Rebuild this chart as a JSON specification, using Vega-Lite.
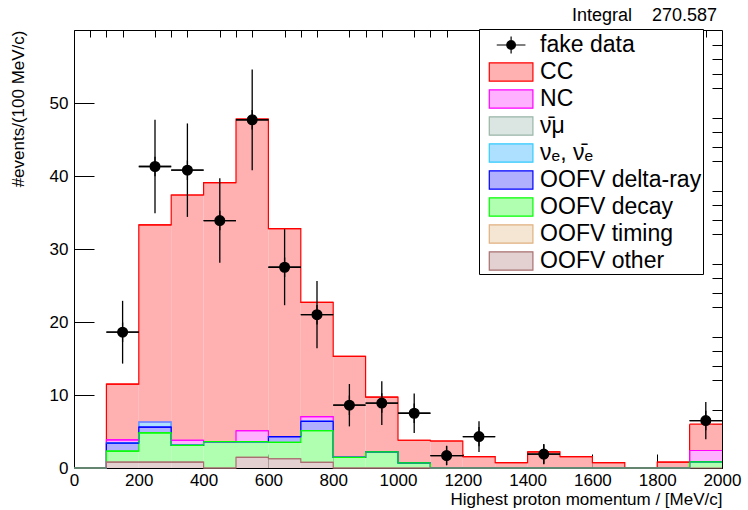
{
  "$schema": "https://vega.github.io/schema/vega-lite/v6.json",
  "width": 648,
  "height": 438,
  "autosize": "none",
  "padding": {"left": 74, "top": 30, "right": 26, "bottom": 42},
  "background": "white",
  "title": {"text": "Integral\u00a0\u00a0\u00a0\u00a0270.587", "anchor": "end", "frame": "group", "fontSize": 18, "font": "Liberation Sans", "fontWeight": "normal", "color": "black", "offset": 4, "dx": -5},
  "datasets": {
    "hist": [
      {"cat":"CC","lo":0,"hi":100,"bottom":0,"top":0},
      {"cat":"CC","lo":100,"hi":200,"bottom":3.85,"top":11.5},
      {"cat":"CC","lo":200,"hi":300,"bottom":6.3,"top":33.3},
      {"cat":"CC","lo":300,"hi":400,"bottom":3.8,"top":37.4},
      {"cat":"CC","lo":400,"hi":500,"bottom":3.6,"top":39.1},
      {"cat":"CC","lo":500,"hi":600,"bottom":5.1,"top":47.8},
      {"cat":"CC","lo":600,"hi":700,"bottom":4.3,"top":32.8},
      {"cat":"CC","lo":700,"hi":800,"bottom":7.05,"top":22.7},
      {"cat":"CC","lo":800,"hi":900,"bottom":1.46,"top":15.3},
      {"cat":"CC","lo":900,"hi":1000,"bottom":2.2,"top":9.7},
      {"cat":"CC","lo":1000,"hi":1100,"bottom":0.7,"top":3.8},
      {"cat":"CC","lo":1100,"hi":1200,"bottom":0,"top":3.7},
      {"cat":"CC","lo":1200,"hi":1300,"bottom":0,"top":1.55},
      {"cat":"CC","lo":1300,"hi":1400,"bottom":0,"top":0.73},
      {"cat":"CC","lo":1400,"hi":1500,"bottom":0,"top":2.2},
      {"cat":"CC","lo":1500,"hi":1600,"bottom":0,"top":1.55},
      {"cat":"CC","lo":1600,"hi":1700,"bottom":0,"top":0.73},
      {"cat":"CC","lo":1700,"hi":1800,"bottom":0,"top":0},
      {"cat":"CC","lo":1800,"hi":1900,"bottom":0,"top":0.8},
      {"cat":"CC","lo":1900,"hi":2000,"bottom":2.4,"top":6.0},

      {"cat":"NC","lo":0,"hi":100,"bottom":0,"top":0},
      {"cat":"NC","lo":100,"hi":200,"bottom":3.4,"top":3.85},
      {"cat":"NC","lo":200,"hi":300,"bottom":6.3,"top":6.3},
      {"cat":"NC","lo":300,"hi":400,"bottom":3.1,"top":3.8},
      {"cat":"NC","lo":400,"hi":500,"bottom":3.6,"top":3.6},
      {"cat":"NC","lo":500,"hi":600,"bottom":3.6,"top":5.1},
      {"cat":"NC","lo":600,"hi":700,"bottom":4.3,"top":4.3},
      {"cat":"NC","lo":700,"hi":800,"bottom":6.4,"top":7.05},
      {"cat":"NC","lo":800,"hi":900,"bottom":1.46,"top":1.46},
      {"cat":"NC","lo":900,"hi":1000,"bottom":2.2,"top":2.2},
      {"cat":"NC","lo":1000,"hi":1100,"bottom":0.7,"top":0.7},
      {"cat":"NC","lo":1100,"hi":1200,"bottom":0,"top":0},
      {"cat":"NC","lo":1200,"hi":1300,"bottom":0,"top":0},
      {"cat":"NC","lo":1300,"hi":1400,"bottom":0,"top":0},
      {"cat":"NC","lo":1400,"hi":1500,"bottom":0,"top":0},
      {"cat":"NC","lo":1500,"hi":1600,"bottom":0,"top":0},
      {"cat":"NC","lo":1600,"hi":1700,"bottom":0,"top":0},
      {"cat":"NC","lo":1700,"hi":1800,"bottom":0,"top":0},
      {"cat":"NC","lo":1800,"hi":1900,"bottom":0,"top":0},
      {"cat":"NC","lo":1900,"hi":2000,"bottom":0.85,"top":2.4},

      {"cat":"\u03bd\u2091, \u03bd\u0304\u2091","lo":0,"hi":100,"bottom":0,"top":0},
      {"cat":"\u03bd\u2091, \u03bd\u0304\u2091","lo":100,"hi":200,"bottom":3.4,"top":3.4},
      {"cat":"\u03bd\u2091, \u03bd\u0304\u2091","lo":200,"hi":300,"bottom":5.6,"top":6.3},
      {"cat":"\u03bd\u2091, \u03bd\u0304\u2091","lo":300,"hi":400,"bottom":3.1,"top":3.1},
      {"cat":"\u03bd\u2091, \u03bd\u0304\u2091","lo":400,"hi":500,"bottom":3.6,"top":3.6},
      {"cat":"\u03bd\u2091, \u03bd\u0304\u2091","lo":500,"hi":600,"bottom":3.6,"top":3.6},
      {"cat":"\u03bd\u2091, \u03bd\u0304\u2091","lo":600,"hi":700,"bottom":4.3,"top":4.3},
      {"cat":"\u03bd\u2091, \u03bd\u0304\u2091","lo":700,"hi":800,"bottom":6.4,"top":6.4},
      {"cat":"\u03bd\u2091, \u03bd\u0304\u2091","lo":800,"hi":900,"bottom":1.46,"top":1.46},
      {"cat":"\u03bd\u2091, \u03bd\u0304\u2091","lo":900,"hi":1000,"bottom":2.2,"top":2.2},
      {"cat":"\u03bd\u2091, \u03bd\u0304\u2091","lo":1000,"hi":1100,"bottom":0.7,"top":0.7},
      {"cat":"\u03bd\u2091, \u03bd\u0304\u2091","lo":1100,"hi":1200,"bottom":0,"top":0},
      {"cat":"\u03bd\u2091, \u03bd\u0304\u2091","lo":1200,"hi":1300,"bottom":0,"top":0},
      {"cat":"\u03bd\u2091, \u03bd\u0304\u2091","lo":1300,"hi":1400,"bottom":0,"top":0},
      {"cat":"\u03bd\u2091, \u03bd\u0304\u2091","lo":1400,"hi":1500,"bottom":0,"top":0},
      {"cat":"\u03bd\u2091, \u03bd\u0304\u2091","lo":1500,"hi":1600,"bottom":0,"top":0},
      {"cat":"\u03bd\u2091, \u03bd\u0304\u2091","lo":1600,"hi":1700,"bottom":0,"top":0},
      {"cat":"\u03bd\u2091, \u03bd\u0304\u2091","lo":1700,"hi":1800,"bottom":0,"top":0},
      {"cat":"\u03bd\u2091, \u03bd\u0304\u2091","lo":1800,"hi":1900,"bottom":0,"top":0},
      {"cat":"\u03bd\u2091, \u03bd\u0304\u2091","lo":1900,"hi":2000,"bottom":0.85,"top":0.85},

      {"cat":"OOFV delta-ray","lo":0,"hi":100,"bottom":0,"top":0},
      {"cat":"OOFV delta-ray","lo":100,"hi":200,"bottom":2.3,"top":3.4},
      {"cat":"OOFV delta-ray","lo":200,"hi":300,"bottom":4.8,"top":5.6},
      {"cat":"OOFV delta-ray","lo":300,"hi":400,"bottom":3.1,"top":3.1},
      {"cat":"OOFV delta-ray","lo":400,"hi":500,"bottom":3.6,"top":3.6},
      {"cat":"OOFV delta-ray","lo":500,"hi":600,"bottom":3.6,"top":3.6},
      {"cat":"OOFV delta-ray","lo":600,"hi":700,"bottom":3.5,"top":4.3},
      {"cat":"OOFV delta-ray","lo":700,"hi":800,"bottom":5.1,"top":6.4},
      {"cat":"OOFV delta-ray","lo":800,"hi":900,"bottom":1.46,"top":1.46},
      {"cat":"OOFV delta-ray","lo":900,"hi":1000,"bottom":2.2,"top":2.2},
      {"cat":"OOFV delta-ray","lo":1000,"hi":1100,"bottom":0.7,"top":0.7},
      {"cat":"OOFV delta-ray","lo":1100,"hi":1200,"bottom":0,"top":0},
      {"cat":"OOFV delta-ray","lo":1200,"hi":1300,"bottom":0,"top":0},
      {"cat":"OOFV delta-ray","lo":1300,"hi":1400,"bottom":0,"top":0},
      {"cat":"OOFV delta-ray","lo":1400,"hi":1500,"bottom":0,"top":0},
      {"cat":"OOFV delta-ray","lo":1500,"hi":1600,"bottom":0,"top":0},
      {"cat":"OOFV delta-ray","lo":1600,"hi":1700,"bottom":0,"top":0},
      {"cat":"OOFV delta-ray","lo":1700,"hi":1800,"bottom":0,"top":0},
      {"cat":"OOFV delta-ray","lo":1800,"hi":1900,"bottom":0,"top":0},
      {"cat":"OOFV delta-ray","lo":1900,"hi":2000,"bottom":0.85,"top":0.85},

      {"cat":"OOFV decay","lo":0,"hi":100,"bottom":0,"top":0},
      {"cat":"OOFV decay","lo":100,"hi":200,"bottom":0.8,"top":2.3},
      {"cat":"OOFV decay","lo":200,"hi":300,"bottom":0.8,"top":4.8},
      {"cat":"OOFV decay","lo":300,"hi":400,"bottom":0.8,"top":3.1},
      {"cat":"OOFV decay","lo":400,"hi":500,"bottom":0,"top":3.6},
      {"cat":"OOFV decay","lo":500,"hi":600,"bottom":1.45,"top":3.6},
      {"cat":"OOFV decay","lo":600,"hi":700,"bottom":1.27,"top":3.5},
      {"cat":"OOFV decay","lo":700,"hi":800,"bottom":0.77,"top":5.1},
      {"cat":"OOFV decay","lo":800,"hi":900,"bottom":0,"top":1.46},
      {"cat":"OOFV decay","lo":900,"hi":1000,"bottom":0,"top":2.2},
      {"cat":"OOFV decay","lo":1000,"hi":1100,"bottom":0,"top":0.7},
      {"cat":"OOFV decay","lo":1100,"hi":1200,"bottom":0,"top":0},
      {"cat":"OOFV decay","lo":1200,"hi":1300,"bottom":0,"top":0},
      {"cat":"OOFV decay","lo":1300,"hi":1400,"bottom":0,"top":0},
      {"cat":"OOFV decay","lo":1400,"hi":1500,"bottom":0,"top":0},
      {"cat":"OOFV decay","lo":1500,"hi":1600,"bottom":0,"top":0},
      {"cat":"OOFV decay","lo":1600,"hi":1700,"bottom":0,"top":0},
      {"cat":"OOFV decay","lo":1700,"hi":1800,"bottom":0,"top":0},
      {"cat":"OOFV decay","lo":1800,"hi":1900,"bottom":0,"top":0},
      {"cat":"OOFV decay","lo":1900,"hi":2000,"bottom":0,"top":0.85},

      {"cat":"OOFV other","lo":0,"hi":100,"bottom":0,"top":0},
      {"cat":"OOFV other","lo":100,"hi":200,"bottom":0,"top":0.8},
      {"cat":"OOFV other","lo":200,"hi":300,"bottom":0,"top":0.8},
      {"cat":"OOFV other","lo":300,"hi":400,"bottom":0,"top":0.8},
      {"cat":"OOFV other","lo":400,"hi":500,"bottom":0,"top":0},
      {"cat":"OOFV other","lo":500,"hi":600,"bottom":0,"top":1.45},
      {"cat":"OOFV other","lo":600,"hi":700,"bottom":0,"top":1.27},
      {"cat":"OOFV other","lo":700,"hi":800,"bottom":0,"top":0.77},
      {"cat":"OOFV other","lo":800,"hi":900,"bottom":0,"top":0},
      {"cat":"OOFV other","lo":900,"hi":1000,"bottom":0,"top":0},
      {"cat":"OOFV other","lo":1000,"hi":1100,"bottom":0,"top":0},
      {"cat":"OOFV other","lo":1100,"hi":1200,"bottom":0,"top":0},
      {"cat":"OOFV other","lo":1200,"hi":1300,"bottom":0,"top":0},
      {"cat":"OOFV other","lo":1300,"hi":1400,"bottom":0,"top":0},
      {"cat":"OOFV other","lo":1400,"hi":1500,"bottom":0,"top":0},
      {"cat":"OOFV other","lo":1500,"hi":1600,"bottom":0,"top":0},
      {"cat":"OOFV other","lo":1600,"hi":1700,"bottom":0,"top":0},
      {"cat":"OOFV other","lo":1700,"hi":1800,"bottom":0,"top":0},
      {"cat":"OOFV other","lo":1800,"hi":1900,"bottom":0,"top":0},
      {"cat":"OOFV other","lo":1900,"hi":2000,"bottom":0,"top":0}
    ],
    "pts": [
      {"cat":"fake data","x":150,"xlo":100,"xhi":200,"n":18.6,"elo":14.3,"ehi":22.9},
      {"cat":"fake data","x":250,"xlo":200,"xhi":300,"n":41.3,"elo":34.9,"ehi":47.7},
      {"cat":"fake data","x":350,"xlo":300,"xhi":400,"n":40.8,"elo":34.4,"ehi":47.2},
      {"cat":"fake data","x":450,"xlo":400,"xhi":500,"n":33.9,"elo":28.1,"ehi":39.7},
      {"cat":"fake data","x":550,"xlo":500,"xhi":600,"n":47.7,"elo":40.8,"ehi":54.6},
      {"cat":"fake data","x":650,"xlo":600,"xhi":700,"n":27.5,"elo":22.3,"ehi":32.7},
      {"cat":"fake data","x":750,"xlo":700,"xhi":800,"n":21.0,"elo":16.4,"ehi":25.6},
      {"cat":"fake data","x":850,"xlo":800,"xhi":900,"n":8.6,"elo":5.7,"ehi":11.5},
      {"cat":"fake data","x":950,"xlo":900,"xhi":1000,"n":8.9,"elo":5.9,"ehi":11.9},
      {"cat":"fake data","x":1050,"xlo":1000,"xhi":1100,"n":7.5,"elo":4.8,"ehi":10.2},
      {"cat":"fake data","x":1150,"xlo":1100,"xhi":1200,"n":1.7,"elo":0.4,"ehi":3.0},
      {"cat":"fake data","x":1250,"xlo":1200,"xhi":1300,"n":4.3,"elo":2.2,"ehi":6.4},
      {"cat":"fake data","x":1450,"xlo":1400,"xhi":1500,"n":1.9,"elo":0.5,"ehi":3.3},
      {"cat":"fake data","x":1950,"xlo":1900,"xhi":2000,"n":6.5,"elo":3.95,"ehi":9.05}
    ]
  },
  "resolve": {"axis": {"x": "independent", "y": "independent"}},
  "layer": [
    {
      "data": {"name": "hist"},
      "mark": {"type": "rect"},
      "encoding": {
        "x": {"field": "lo", "type": "quantitative", "scale": {"domain": [0, 2000], "nice": false, "zero": false},
              "axis": {"values": [0,200,400,600,800,1000,1200,1400,1600,1800,2000], "format": "d", "tickSize": -14, "labelPadding": 18, "labelFlush": false, "labelOverlap": false, "title": "Highest proton momentum / [MeV/c]", "titleAnchor": "end", "titlePadding": 3}},
        "x2": {"field": "hi"},
        "y": {"field": "bottom", "type": "quantitative", "scale": {"domain": [0, 60], "nice": false, "zero": false},
              "axis": {"values": [0,10,20,30,40,50], "format": "d", "tickSize": -20, "labelPadding": 26, "labelFlush": false, "labelOverlap": false, "title": "#events/(100 MeV/c)", "titleAnchor": "end", "titlePadding": 22}},
        "y2": {"field": "top"},
        "fill": {"field": "cat", "type": "nominal",
                 "scale": {"domain": ["fake data","CC","NC","\u03bd\u0304\u03bc","\u03bd\u2091, \u03bd\u0304\u2091","OOFV delta-ray","OOFV decay","OOFV timing","OOFV other"],
                           "range": ["black","#ffb0b0","#ffb0ff","#dbe6e2","#addfff","#b0b0ff","#b0ffb0","#f5e6d3","#e3d0d0"]},
                 "legend": {"labelExpr": "datum.label + '\u2003'"}}
      }
    },
    {
      "data": {"name": "hist"},
      "mark": {"type": "line", "interpolate": "step-after", "strokeWidth": 1.2},
      "encoding": {
        "x": {"field": "lo", "type": "quantitative",
              "axis": {"values": [50,100,150,250,300,350,450,500,550,650,700,750,850,900,950,1050,1100,1150,1250,1300,1350,1450,1500,1550,1650,1700,1750,1850,1900,1950], "tickSize": -7, "labels": false, "domain": false, "title": null}},
        "y": {"field": "top", "type": "quantitative",
              "axis": {"values": [2,4,6,8,12,14,16,18,22,24,26,28,32,34,36,38,42,44,46,48,52,54,56,58], "tickSize": -10, "labels": false, "domain": false, "title": null}},
        "stroke": {"field": "cat", "type": "nominal",
                   "scale": {"domain": ["fake data","CC","NC","\u03bd\u0304\u03bc","\u03bd\u2091, \u03bd\u0304\u2091","OOFV delta-ray","OOFV decay","OOFV timing","OOFV other"],
                             "range": ["black","#ff0000","#ff00ff","#99b5a8","#33ccff","#0000ff","#00ff00","#e0b080","#a87070"]},
                   "legend": {"labelExpr": "datum.label + '\u2003'"}}
      }
    },
    {
      "data": {"name": "hist"},
      "mark": {"type": "rule", "strokeWidth": 1.2},
      "encoding": {
        "x": {"field": "lo", "type": "quantitative", "axis": null},
        "x2": {"field": "hi"},
        "y": {"field": "top", "type": "quantitative", "axis": null},
        "stroke": {"field": "cat", "type": "nominal", "legend": {"labelExpr": "datum.label + '\u2003'"}}
      }
    },
    {
      "data": {"name": "pts"},
      "mark": {"type": "rule", "strokeWidth": 1.3, "color": "black"},
      "encoding": {
        "x": {"field": "x", "type": "quantitative", "axis": null},
        "y": {"field": "elo", "type": "quantitative", "axis": null},
        "y2": {"field": "ehi"}
      }
    },
    {
      "data": {"name": "pts"},
      "mark": {"type": "rule", "strokeWidth": 1.3, "color": "black"},
      "encoding": {
        "x": {"field": "xlo", "type": "quantitative", "axis": null},
        "x2": {"field": "xhi"},
        "y": {"field": "n", "type": "quantitative", "axis": null}
      }
    },
    {
      "data": {"name": "pts"},
      "mark": {"type": "point", "filled": true, "size": 1050, "strokeWidth": 1.3, "opacity": 1},
      "encoding": {
        "x": {"field": "x", "type": "quantitative", "axis": null},
        "y": {"field": "n", "type": "quantitative", "axis": null},
        "fill": {"field": "cat", "type": "nominal", "legend": {"labelExpr": "datum.label + '\u2003'"}},
        "stroke": {"field": "cat", "type": "nominal", "legend": {"labelExpr": "datum.label + '\u2003'"}},
        "shape": {"field": "cat", "type": "nominal", "legend": {"labelExpr": "datum.label + '\u2003'"},
                  "scale": {"domain": ["fake data","CC","NC","\u03bd\u0304\u03bc","\u03bd\u2091, \u03bd\u0304\u2091","OOFV delta-ray","OOFV decay","OOFV timing","OOFV other"],
                            "range": ["M-1,0H1M0,-0.6V0.6M0.3,0A0.3,0.3,0,1,1,-0.3,0A0.3,0.3,0,1,1,0.3,0Z","M-1.52,-0.64H1.52V0.64H-1.52Z","M-1.52,-0.64H1.52V0.64H-1.52Z","M-1.52,-0.64H1.52V0.64H-1.52Z","M-1.52,-0.64H1.52V0.64H-1.52Z","M-1.52,-0.64H1.52V0.64H-1.52Z","M-1.52,-0.64H1.52V0.64H-1.52Z","M-1.52,-0.64H1.52V0.64H-1.52Z","M-1.52,-0.64H1.52V0.64H-1.52Z"]}}
      }
    }
  ],
  "config": {
    "font": "Liberation Sans",
    "view": {"stroke": "black", "strokeWidth": 1},
    "axis": {"grid": false, "domainColor": "black", "tickColor": "black", "labelColor": "black", "titleColor": "black", "labelFont": "Liberation Sans", "titleFont": "Liberation Sans", "labelFontSize": 17, "titleFontSize": 17, "titleFontWeight": "normal", "zindex": 1, "domainWidth": 1, "tickWidth": 1},
    "legend": {"orient": "none", "legendX": 405, "legendY": -1, "title": null, "strokeColor": "black", "fillColor": "white", "padding": 1, "symbolOffset": 16.1, "labelOffset": 14, "labelFont": "Liberation Sans", "labelFontSize": 23, "labelLimit": 400, "labelColor": "black", "symbolSize": 824, "rowPadding": 0, "symbolStrokeWidth": 1.2, "symbolOpacity": 1, "zindex": 2}
  }
}
